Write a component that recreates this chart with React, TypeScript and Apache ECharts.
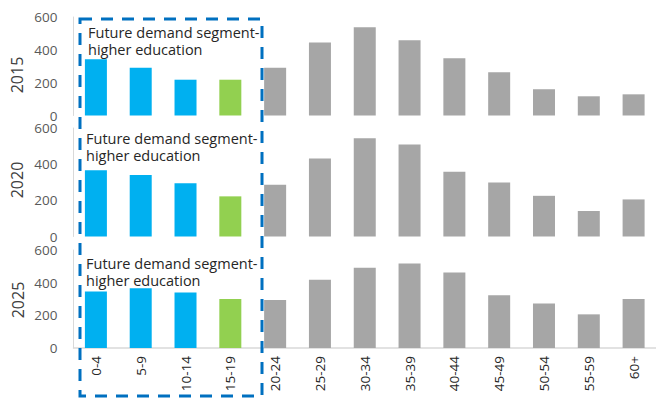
import React, { useEffect, useRef } from "react";
import * as echarts from "echarts";

const categories = ["0-4", "5-9", "10-14", "15-19", "20-24", "25-29", "30-34", "35-39", "40-44", "45-49", "50-54", "55-59", "60+"];
const years = ["2015", "2020", "2025"];
const values2015 = [343, 291, 218, 218, 291, 444, 537, 458, 349, 263, 160, 117, 129];
const values2020 = [366, 340, 294, 222, 286, 432, 543, 509, 358, 299, 225, 141, 205];
const values2025 = [346, 366, 340, 300, 294, 418, 492, 517, 463, 323, 272, 206, 300];
const yTicks = [0, 200, 400, 600];
const annotation = "Future demand segment-\nhigher education";

const BLUE = "#00B0F0";
const GREEN = "#92D050";
const GRAY = "#A6A6A6";
const colorFor = (i: number) => (i < 3 ? BLUE : i === 3 ? GREEN : GRAY);

export default function App() {
  const ref = useRef<HTMLDivElement>(null);
  useEffect(() => {
    if (!ref.current) return;
    const chart = echarts.init(ref.current, undefined, { renderer: "svg" });
    const allValues = [values2015, values2020, values2025];
    const grids = [
      { left: 73.5, top: 17, width: 588, height: 98.5 },
      { left: 73.5, top: 128, width: 588, height: 108.5 },
      { left: 73.5, top: 250, width: 588, height: 98 },
    ];
    const yearCenters = [{ x: 17, y: 75 }, { x: 17, y: 180 }, { x: 18, y: 300 }];
    const textTops = [{ x: 88, y: 24 }, { x: 86, y: 130 }, { x: 86, y: 254.5 }];
    const font = "Open Sans";
    chart.setOption({
      animation: false,
      backgroundColor: "#ffffff",
      grid: grids,
      xAxis: grids.map((_, gi) => ({
        type: "category",
        gridIndex: gi,
        data: categories,
        show: gi === 2,
        axisLine: { show: gi === 2, lineStyle: { color: "#D9D9D9", width: 1.5 } },
        axisTick: { show: false },
        axisLabel: {
          show: gi === 2,
          rotate: 90,
          margin: 8,
          color: "#262626",
          fontFamily: font,
          fontSize: 13.5,
          interval: 0,
        },
      })),
      yAxis: grids.map((_, gi) => ({
        type: "value",
        gridIndex: gi,
        min: yTicks[0],
        max: yTicks[yTicks.length - 1],
        interval: 200,
        splitLine: { show: false },
        axisTick: { show: false },
        axisLine: { show: true, lineStyle: { color: "#D9D9D9", width: 1 } },
        axisLabel: {
          margin: 16,
          color: "#595959",
          fontFamily: font,
          fontSize: 13.5,
        },
      })),
      series: allValues.map((vals, gi) => ({
        type: "bar",
        xAxisIndex: gi,
        yAxisIndex: gi,
        barWidth: 22,
        data: vals.map((v, i) => ({ value: v, itemStyle: { color: colorFor(i) } })),
      })),
      graphic: [
        ...years.map((yr, gi) => ({
          type: "text",
          x: yearCenters[gi].x,
          y: yearCenters[gi].y,
          rotation: Math.PI / 2,
          style: {
            text: yr,
            fill: "#404040",
            font: `16px "${font}"`,
            textAlign: "center",
            textVerticalAlign: "middle",
          },
        })),
        ...textTops.map((p) => ({
          type: "text",
          x: p.x,
          y: p.y,
          z: 10,
          style: {
            text: annotation,
            fill: "#262626",
            font: `14.5px "${font}"`,
            lineHeight: 17,
            textAlign: "left",
            textVerticalAlign: "top",
          },
        })),
        {
          type: "rect",
          z: 20,
          shape: { x: 80, y: 19, width: 182, height: 377 },
          style: { fill: "none", stroke: "#0070C0", lineWidth: 3, lineDash: [12, 9] },
        },
      ],
    });
    return () => chart.dispose();
  }, []);
  return (
    <div
      ref={ref}
      style={{ position: "absolute", left: 0, top: 0, width: 656, height: 399 }}
    />
  );
}
